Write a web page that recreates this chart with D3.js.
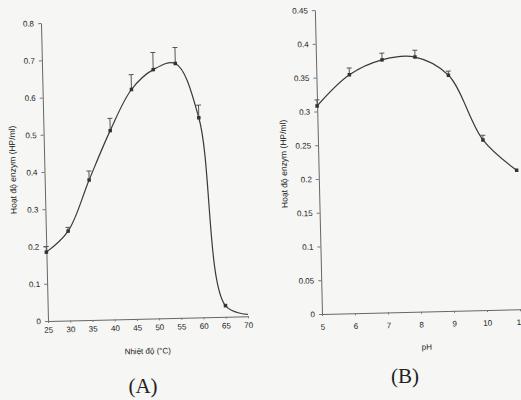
<!DOCTYPE html>
<html><head><meta charset="utf-8">
<script src="https://cdn.jsdelivr.net/npm/d3@7"></script>
<style>
html,body{margin:0;padding:0;background:#f6f6f4;}
svg{display:block;}
</style></head>
<body>
<script>
// ---- Chart A: temperature ----
const tempValues = [25, 30, 35, 40, 45, 50, 55, 60, 65, 70];
const activityA  = [0.185, 0.24, 0.376, 0.507, 0.616, 0.668, 0.683, 0.536, 0.03, 0.005];
const errTopA    = [0.20, 0.25, 0.40, 0.54, 0.656, 0.714, 0.726, 0.57, null, null];
const tempTicks  = [25, 30, 35, 40, 45, 50, 55, 60, 65, 70];
const yTicksA    = [0, 0.1, 0.2, 0.3, 0.4, 0.5, 0.6, 0.7, 0.8];
// ---- Chart B: pH ----
const phValues   = [5, 6, 7, 8, 9, 10, 11];
const activityB  = [0.308, 0.353, 0.374, 0.377, 0.349, 0.252, 0.206];
const errTopB    = [0.317, 0.363, 0.384, 0.387, 0.355, 0.259, null];
const phTicks    = [5, 6, 7, 8, 9, 10, 11];
const yTicksB    = [0, 0.05, 0.1, 0.15, 0.2, 0.25, 0.3, 0.35, 0.4, 0.45];

const yTitle = "Hoạt độ enzym (HP/ml)";

const W = 521, H = 400, ROT = -1.35;
const SANS = "Liberation Sans, Arial, sans-serif";
const SERIF = "Liberation Serif, Times New Roman, serif";
const svg = d3.select("body").append("svg").attr("width", W).attr("height", H)
  .attr("font-family", SANS);
svg.append("rect").attr("width", W).attr("height", H).attr("fill", "#f6f6f4");

function drawChart(o) {
  const g = svg.append("g").attr("transform", `translate(${o.ox},${o.oy}) rotate(${ROT})`);
  const x = d3.scaleLinear().domain(o.xDomain).range([0, o.xLen]);
  const y = d3.scaleLinear().domain(o.yDomain).range([0, -o.yLen]);

  const ya = g.append("g").call(d3.axisLeft(y).tickValues(o.yTicks).tickSize(3).tickSizeOuter(0)
    .tickFormat(d => d === 0 ? "0" : String(+d.toFixed(2))));
  ya.attr("font-family", SANS);
  ya.select(".domain").attr("stroke", "#666").attr("stroke-width", 1);
  ya.selectAll(".tick line").attr("stroke", "#777");
  ya.selectAll(".tick text").attr("x", -7).attr("font-size", 8).attr("fill", "#222");

  const xa = g.append("g").call(d3.axisBottom(x).tickValues(o.xTicks).tickSize(2).tickSizeOuter(0)
    .tickFormat(d3.format("d")));
  xa.attr("font-family", SANS);
  xa.select(".domain").attr("stroke", "#666").attr("stroke-width", 1);
  xa.selectAll(".tick line").attr("stroke", "#777");
  xa.selectAll(".tick text").attr("y", o.xLabelDy).attr("font-size", 8).attr("fill", "#222");

  const pts = o.xs.map((v, i) => ({x: v, y: o.ys[i], e: o.errs[i]}));

  const line = d3.line().x(d => x(d.x)).y(d => y(d.y)).curve(d3.curveCatmullRom.alpha(0.5));
  g.append("path").datum(pts).attr("d", line).attr("fill", "none")
    .attr("stroke", "#3a3a3a").attr("stroke-width", 1.2);

  const eb = g.selectAll(".eb").data(pts.filter(d => d.e != null)).enter().append("g");
  eb.append("line").attr("x1", d => x(d.x)).attr("x2", d => x(d.x))
    .attr("y1", d => y(d.y)).attr("y2", d => y(d.e)).attr("stroke", "#555").attr("stroke-width", 1);
  eb.append("line").attr("x1", d => x(d.x) - 2.5).attr("x2", d => x(d.x) + 2.5)
    .attr("y1", d => y(d.e)).attr("y2", d => y(d.e)).attr("stroke", "#555").attr("stroke-width", 1);

  g.selectAll(".mk").data(pts.filter(d => d.y > 0.01)).enter().append("rect")
    .attr("x", d => x(d.x) - 1.75).attr("y", d => y(d.y) - 1.75).attr("width", 3.5).attr("height", 3.5)
    .attr("fill", "#333");

  g.append("text").attr("transform", `translate(${o.ytx},${o.yty}) rotate(-90)`)
    .attr("text-anchor", "middle").attr("dominant-baseline", "middle")
    .attr("font-size", 8.5).attr("fill", "#222").text(yTitle);
  g.append("text").attr("x", o.xtx).attr("y", o.xty).attr("text-anchor", "middle")
    .attr("dominant-baseline", "middle").attr("font-size", 8).attr("fill", "#222").text(o.xTitle);
}

drawChart({ox: 48, oy: 321, xDomain: [25, 70], xLen: 200, yDomain: [0, 0.8], yLen: 298,
  xTicks: tempTicks, yTicks: yTicksA, xs: tempValues, ys: activityA, errs: errTopA,
  xLabelDy: 6, ytx: -31, yty: -152, xtx: 99, xty: 33, xTitle: "Nhiệt độ (°C)"});

drawChart({ox: 322, oy: 314, xDomain: [5, 12], xLen: 231, yDomain: [0, 0.45], yLen: 304,
  xTicks: phTicks, yTicks: yTicksB, xs: phValues, ys: activityB, errs: errTopB,
  xLabelDy: 10, ytx: -34, yty: -151, xtx: 104, xty: 36, xTitle: "pH"});

svg.append("text").attr("x", 143).attr("y", 388).attr("text-anchor", "middle")
  .attr("dominant-baseline", "middle").attr("font-family", SERIF)
  .attr("font-size", 21).attr("fill", "#222").text("(A)");
svg.append("text").attr("x", 405).attr("y", 378).attr("text-anchor", "middle")
  .attr("dominant-baseline", "middle").attr("font-family", SERIF)
  .attr("font-size", 21).attr("fill", "#222").text("(B)");
</script>
</body></html>
